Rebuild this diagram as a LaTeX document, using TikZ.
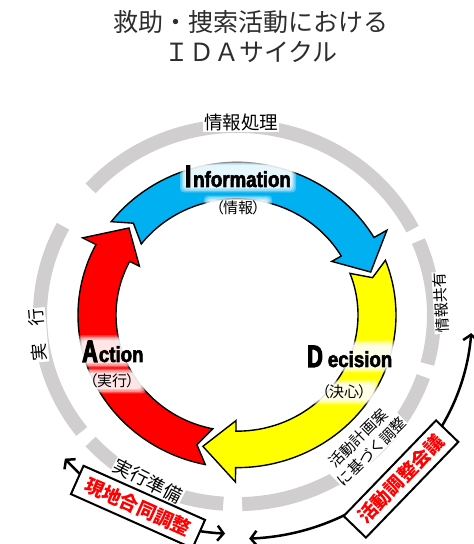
\documentclass[tikz,border=0pt]{standalone}
\usepackage{fontspec}
\newfontfamily\jp{Noto Sans CJK JP}
\newfontfamily\heavyfont[FakeStretch=0.85,FakeBold=2.5]{Liberation Sans}
\newfontfamily\bigfont[FakeStretch=0.7,FakeBold=3.5]{Liberation Sans}
\usetikzlibrary{arrows.meta,calc}
\pgfdeclarelayer{glowlayer}
\pgfdeclarelayer{toplayer}
\pgfsetlayers{main,glowlayer,toplayer}
\definecolor{ringgray}{RGB}{208,206,206}
\definecolor{iblue}{RGB}{0,176,240}
\definecolor{dyellow}{RGB}{255,255,0}
\definecolor{ared}{RGB}{255,0,0}
\definecolor{titlegray}{RGB}{45,45,45}
\newcommand\Ro{159}
\newcommand\Ri{121}
\newcommand\Rm{141}
\newcommand\Rbo{174}
\newcommand\Rbi{110}
\newcommand\notchd{5}
% #1 colour, #2 tail angle, #3 head base angle, #4 tip angle
\newcommand\cyclearrow[4]{%
  \path[arrowbody, fill=#1] (#2:\Ro) arc[start angle=#2, end angle=#3, radius=\Ro]
    -- (#3:\Rbo) -- (#4:\Rm) -- (#3:\Rbi) -- (#3:\Ri)
    arc[start angle=#3, end angle=#2, radius=\Ri]
    -- ({#2-\notchd}:\Rm) -- cycle;
}
% #1 name, #2 position, #3 options, #4 text
\newcommand\glowlabel[4]{%
  \begin{pgfonlayer}{toplayer}
    \node[#3] (#1) at (#2) {#4};
  \end{pgfonlayer}
  \begin{pgfonlayer}{glowlayer}
    \foreach \gs/\go in {5/0.3, 3.5/0.35, 2/0.45, 0.5/0.6}{
      \fill[white, fill opacity=\go, rounded corners=4bp]
        ($(#1.south west)+(-\gs,-\gs)$) rectangle ($(#1.north east)+(\gs,\gs)$);
    }
  \end{pgfonlayer}
}
\tikzset{
  arrowbody/.style={preaction={draw=white, line width=6bp}, draw=black, line width=1.4bp, line join=miter},
  ringseg/.style={draw=ringgray, line width=14bp},
  ringlabel/.style={fill=white, inner sep=1bp, text=black, font=\jp},
  bigword/.style={inner sep=0pt, anchor=base west, text=black},
  sublabel/.style={inner sep=0pt, text=black},
  redbox/.style={draw=black, line width=2bp, fill=white, text=ared, inner sep=0pt,
    minimum width=133bp, minimum height=31bp, font=\jp\bfseries\fontsize{19bp}{19bp}\selectfont},
  loop/.style={draw=black, line width=2.5bp, {Straight Barb[length=6bp,width=15bp]}-{Straight Barb[length=6bp,width=15bp]}}
}
\newcommand\bigL[1]{{\bigfont\bfseries\fontsize{31bp}{31bp}\selectfont #1}}
\newcommand\smallL[1]{{\heavyfont\bfseries\fontsize{22bp}{22bp}\selectfont #1}}
\newcommand\jpsub[1]{{\jp\fontsize{15bp}{15bp}\selectfont （\hspace{-1bp}#1\hspace{-1bp}）}}
\begin{document}
\begin{tikzpicture}[x=1bp,y=1bp]
\useasboundingbox (-237,-229) rectangle (237,315);
% title
\node[text=titlegray, align=center, font=\jp\fontsize{25bp}{30bp}\selectfont] (title) at (14,278)
  {救助・捜索活動における\\ＩＤＡサイクル};
% outer gray ring and inner arrows
\begin{scope}[yscale=0.96]
  \draw[ringseg] (27:197) arc[start angle=27, end angle=138, radius=197];
  \draw[ringseg] (152:197) arc[start angle=152, end angle=218, radius=197];
  \draw[ringseg] (222:197) arc[start angle=222, end angle=266, radius=197];
  \draw[ringseg] (271.5:197) arc[start angle=271.5, end angle=341, radius=197];
  \draw[ringseg] (-15:197) arc[start angle=-15, end angle=23, radius=197];
  \cyclearrow{iblue}{142.3}{30.5}{18.5}
  \cyclearrow{dyellow}{21}{-90.5}{-104}
  \cyclearrow{ared}{258.5}{152.5}{140}
  % black two-headed arrows
  \coordinate (la) at (221:228);
  \coordinate (ra) at (-4.6:235);
  \draw[loop] (la) arc[start angle=221, end angle=267, radius=228] coordinate (lb);
  \draw[loop] (ra) arc[start angle=-4.6, end angle=-87.5, radius=233] coordinate (rb);
\end{scope}
% ring labels
\node[ringlabel, font=\jp\fontsize{18.5bp}{18.5bp}\selectfont] (proc) at (4,193) {情報処理};
\node[ringlabel, rotate=93, font=\jp\fontsize{15bp}{15bp}\selectfont] (share) at (204,12) {情報共有};
\node[ringlabel, rotate=95, font=\jp\fontsize{17.5bp}{17.5bp}\selectfont] (exec) at (-199,-20) {実　行};
\node[ringlabel, rotate=-27, font=\jp\fontsize{18.5bp}{18.5bp}\selectfont] (prep) at (-89,-166) {実行準備};
\node[ringlabel, rotate=45, align=center, font=\jp\fontsize{15bp}{19bp}\selectfont, inner sep=0.5bp] (plan) at (128,-130) {活動計画案\\に基づく調整};
% boxes
\node[redbox, rotate=-24] (genchi) at (-99,-192) {現地合同調整};
\node[redbox, rotate=46] (katsudo) at (164,-164) {活動調整会議};
% arrow labels
\glowlabel{info}{-52,128}{bigword}{\bigL{I}\hspace{2bp}\smallL{nformation}}
\glowlabel{infoj}{1,107}{sublabel}{\jpsub{情報}}
\glowlabel{act}{-155,-47}{bigword}{\bigL{A}\hspace{1bp}\smallL{ction}}
\glowlabel{actj}{-125,-66}{sublabel}{\jpsub{実行}}
\glowlabel{dec}{70,-52}{bigword}{\bigL{D}\hspace{5bp}\smallL{ecision}}
\glowlabel{decj}{107,-77}{sublabel}{\jpsub{決心}}
\end{tikzpicture}
\end{document}
